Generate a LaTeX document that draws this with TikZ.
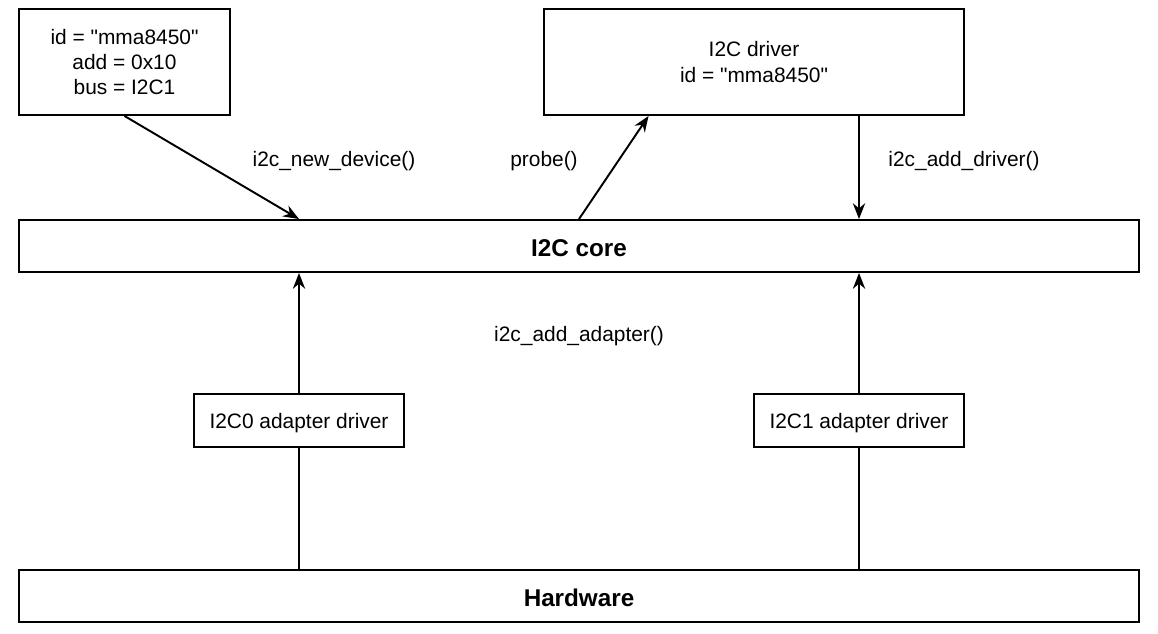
\documentclass[tikz,border=0pt]{standalone}
\usepackage{fontspec}
\setmainfont{Liberation Sans}
\usetikzlibrary{arrows.meta,calc}

\begin{document}
\begin{tikzpicture}[x=0.02cm,y=-0.02cm,
    box/.style={draw,line width=1.1pt,align=center,inner sep=0pt,
        font=\fontsize{11.9}{14.5}\selectfont,
        execute at begin node={\rule{0pt}{0.42cm}}},
    bar/.style={box,minimum width=22.4cm,minimum height=1.04cm,
        font=\fontsize{13.8}{16}\selectfont\bfseries},
    lbl/.style={font=\fontsize{11.9}{14.5}\selectfont,
        execute at begin node={\rule{0pt}{0.42cm}}},
    conn/.style={line width=1.1pt},
    arr/.style={conn,-{Stealth[length=9pt,width=7pt]}}]

    \useasboundingbox (0,0) rectangle (1158,633);

    % Geraet und Treiber
    \node[box,minimum width=4.22cm,minimum height=2.12cm] (dev) at (124.5,62)
        {id = \textquotedbl mma8450\textquotedbl\\add = 0x10\\bus = I2C1};
    \node[box,minimum width=8.4cm,minimum height=2.12cm] (drv) at (754,62)
        {I2C driver\\id = \textquotedbl mma8450\textquotedbl};

    % Kern und Hardware
    \node[bar] (core) at (579,246) {I2C core};
    \node[bar] (hw) at (579,596) {Hardware};

    % Adaptertreiber
    \node[box,minimum width=4.2cm,minimum height=1.06cm] (ada0) at (299,420.5) {I2C0 adapter driver};
    \node[box,minimum width=4.2cm,minimum height=1.06cm] (ada1) at (859,420.5) {I2C1 adapter driver};

    % Aufrufe
    \node[lbl] (newdev) at (334,158) {i2c\_new\_device()};
    \node[lbl] (probe) at (544,158) {probe()};
    \node[lbl] (adddrv) at (964,158) {i2c\_add\_driver()};
    \node[lbl] (addada) at (579,333) {i2c\_add\_adapter()};

    % Pfeile oben
    \draw[arr] (dev.south) -- (core.north -| ada0.north);
    \draw[arr] (core.north) -- ($(drv.south west)!0.25!(drv.south east)$);
    \draw[arr] (drv.south -| ada1.north) -- (core.north -| ada1.north);

    % Pfeile unten
    \draw[arr] (ada0.north) -- (core.south -| ada0.north);
    \draw[arr] (ada1.north) -- (core.south -| ada1.north);
    \draw[conn] (hw.north -| ada0.south) -- (ada0.south);
    \draw[conn] (hw.north -| ada1.south) -- (ada1.south);

\end{tikzpicture}
\end{document}
